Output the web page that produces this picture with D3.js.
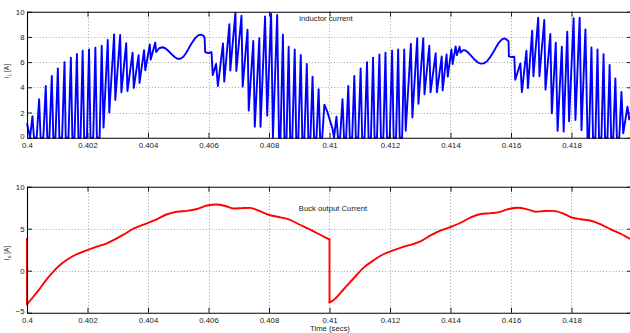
<!DOCTYPE html>
<html>
<head>
<meta charset="utf-8">
<script src="https://cdn.jsdelivr.net/npm/d3@7"></script>
<style>
  body { margin: 0; background: #fff; }
  text { font-family: "Liberation Sans", Arial, Helvetica, sans-serif; }
</style>
</head>
<body>
<svg id="chart" width="630" height="333"></svg>
<script>
// Time axis (seconds)
const timeTicks = [0.4, 0.402, 0.404, 0.406, 0.408, 0.41, 0.412, 0.414, 0.416, 0.418];
const timeLabels = ["0.4", "0.402", "0.404", "0.406", "0.408", "0.41", "0.412", "0.414", "0.416", "0.418"];

// Inductor current: switching waveform vertices
const ilTime = [
  0.40000, 0.40010, 0.40018, 0.40023, 0.40032, 0.40040, 0.40045, 0.40054, 0.40062, 0.40067,
  0.40074, 0.40082, 0.40087, 0.40094, 0.40102, 0.40107, 0.40116, 0.40124, 0.40128, 0.40137,
  0.40145, 0.40150, 0.40157, 0.40165, 0.40170, 0.40177, 0.40184, 0.40189, 0.40198, 0.40205,
  0.40210, 0.40219, 0.40226, 0.40231, 0.40240, 0.40247, 0.40253, 0.40267, 0.40272, 0.40288,
  0.40292, 0.40308, 0.40312, 0.40328, 0.40332, 0.40349, 0.40353, 0.40369, 0.40372, 0.40387,
  0.40391, 0.40406, 0.40409, 0.40424, 0.40427, 0.40437, 0.40447, 0.40457, 0.40467, 0.40477,
  0.40487, 0.40497, 0.40507, 0.40517, 0.40526, 0.40536, 0.40546, 0.40556, 0.40566, 0.40575,
  0.40584, 0.40587, 0.40589, 0.40599, 0.40610, 0.40614, 0.40625, 0.40631, 0.40648, 0.40652,
  0.40669, 0.40672, 0.40689, 0.40692, 0.40709, 0.40713, 0.40729, 0.40733, 0.40748, 0.40753,
  0.40768, 0.40772, 0.40787, 0.40794, 0.40807, 0.40813, 0.40827, 0.40833, 0.40838, 0.40846,
  0.40851, 0.40858, 0.40865, 0.40870, 0.40877, 0.40885, 0.40890, 0.40897, 0.40905, 0.40910,
  0.40917, 0.40925, 0.40930, 0.40937, 0.40944, 0.40949, 0.40957, 0.40964, 0.40969, 0.40976,
  0.40983, 0.40993, 0.41003, 0.41010, 0.41015,
  0.41023, 0.41028, 0.41035, 0.41043, 0.41048, 0.41055, 0.41062, 0.41067, 0.41075, 0.41082,
  0.41087, 0.41095, 0.41103, 0.41108, 0.41116, 0.41124, 0.41129, 0.41137, 0.41144, 0.41149,
  0.41157, 0.41165, 0.41170, 0.41178, 0.41185, 0.41190, 0.41199, 0.41207, 0.41212, 0.41220,
  0.41227, 0.41232, 0.41240, 0.41247, 0.41252, 0.41269, 0.41274, 0.41290, 0.41294, 0.41310,
  0.41314, 0.41330, 0.41334, 0.41351, 0.41355, 0.41371, 0.41374, 0.41387, 0.41391, 0.41403,
  0.41407, 0.41417, 0.41421, 0.41430, 0.41433, 0.41442, 0.41450, 0.41460, 0.41470, 0.41480,
  0.41490, 0.41500, 0.41510, 0.41520, 0.41530, 0.41540, 0.41550, 0.41560, 0.41570, 0.41578,
  0.41586, 0.41592, 0.41593, 0.41603, 0.41611, 0.41614, 0.41631, 0.41636, 0.41651, 0.41656,
  0.41670, 0.41674, 0.41690, 0.41694, 0.41710, 0.41714, 0.41730, 0.41735, 0.41748, 0.41754,
  0.41768, 0.41774, 0.41786, 0.41792, 0.41807, 0.41813, 0.41827, 0.41833, 0.41846, 0.41853,
  0.41858, 0.41866, 0.41871, 0.41879, 0.41886, 0.41891, 0.41899, 0.41906, 0.41911, 0.41919,
  0.41926, 0.41931, 0.41938, 0.41945, 0.41950, 0.41958, 0.41965, 0.41971, 0.41985, 0.41991,
  0.42000
];
const ilCurrent = [
  1.15, 0, 1.7, 0, 0, 3.05, 0, 0, 4.1, 0,
  0, 4.9, 0, 0, 5.5, 0, 0, 6.0, 0, 0,
  6.35, 0, 0, 6.65, 0, 0, 6.9, 0, 0, 7.0,
  0, 0, 7.15, 0, 0, 7.3, 0.8, 7.75, 2.0, 8.2,
  3.0, 8.15, 3.6, 7.5, 3.7, 6.75, 3.95, 6.55, 4.35, 6.95,
  5.35, 7.4, 6.2, 7.55, 6.8, 7.1, 7.18, 7.1, 6.9, 6.65,
  6.42, 6.27, 6.27, 6.42, 6.72, 7.15, 7.55, 7.9, 8.12, 8.18,
  8.08, 7.95, 6.8, 6.72, 6.78, 4.97, 5.85, 4.1, 7.48, 4.45,
  9.0, 5.33, 9.93, 5.3, 9.68, 4.05, 8.58, 2.15, 7.67, 0.87,
  7.9, 0.87, 9.63, 1.75, 9.85, 0, 9.74, 0, 0, 8.18,
  0, 0, 7.22, 0, 0, 7.0, 0, 0, 6.56, 0,
  0, 5.85, 0, 0, 4.85, 0, 0, 3.85, 0, 0,
  2.62, 2.05, 1.27, 0.7, 0,
  1.67, 0, 0, 3.05, 0, 0, 4.1, 0, 0, 4.9,
  0, 0, 5.5, 0, 0, 6.0, 0, 0, 6.35, 0,
  0, 6.6, 0, 0, 6.75, 0, 0, 6.9, 0, 0,
  7.0, 0, 0, 7.0, 0.55, 7.45, 1.6, 7.9, 2.7, 7.9,
  3.45, 7.3, 3.6, 6.7, 3.6, 6.45, 3.75, 6.6, 4.85, 7.0,
  5.85, 7.25, 6.55, 7.22, 6.75, 6.95, 6.92, 6.72, 6.45, 6.18,
  5.98, 5.88, 5.9, 6.05, 6.35, 6.72, 7.15, 7.55, 7.8, 7.88,
  7.78, 7.65, 6.45, 6.4, 6.42, 4.6, 5.9, 3.62, 6.9, 3.95,
  8.5, 4.87, 9.53, 4.88, 9.34, 3.82, 8.23, 1.94, 7.54, 0.55,
  7.22, 0.48, 8.42, 1.3, 9.48, 1.4, 9.53, 0.6, 8.6, 0,
  0, 7.17, 0, 0, 7.0, 0, 0, 6.62, 0, 0,
  5.77, 0, 0, 4.71, 0, 0, 3.63, 0.35, 2.46, 1.45,
  1.85
];
const ilTicks = [0, 2, 4, 6, 8, 10];

// Buck output current
const ioTime = [
  0.40000, 0.40000, 0.40021, 0.40043, 0.40065, 0.40087, 0.40109, 0.40131, 0.40159, 0.40186,
  0.40231, 0.40264, 0.40291, 0.40319, 0.40352, 0.40397, 0.40429, 0.40463, 0.40496, 0.40529,
  0.40562, 0.40595, 0.40628, 0.40656, 0.40683, 0.40711, 0.40738, 0.40766, 0.40801, 0.40838,
  0.40865, 0.40904, 0.40943, 0.40981, 0.41000, 0.41000, 0.41014, 0.41047, 0.41080, 0.41114,
  0.41147, 0.41180, 0.41208, 0.41246, 0.41279, 0.41301, 0.41334, 0.41368, 0.41403, 0.41434,
  0.41467, 0.41500, 0.41533, 0.41561, 0.41588, 0.41622, 0.41655, 0.41682, 0.41710, 0.41737,
  0.41771, 0.41802, 0.41831, 0.41864, 0.41897, 0.41930, 0.41964, 0.41997, 0.42000
];
const ioCurrent = [
  3.8, -4.0, -3.1, -2.1, -1.03, -0.1, 0.68, 1.27, 1.87, 2.26,
  2.86, 3.26, 3.74, 4.3, 5.0, 5.64, 6.12, 6.72, 7.02, 7.12,
  7.35, 7.76, 7.88, 7.7, 7.4, 7.45, 7.48, 7.14, 6.63, 6.35,
  6.12, 5.44, 4.76, 4.05, 3.72, -3.78, -3.49, -2.21, -0.9, 0.4,
  1.27, 1.99, 2.38, 2.86, 3.2, 3.5, 4.2, 4.8, 5.24, 5.71,
  6.36, 6.75, 6.85, 6.97, 7.3, 7.5, 7.3, 7.02, 7.1, 7.12,
  6.83, 6.31, 6.12, 5.95, 5.52, 4.93, 4.37, 3.74, 3.7
];
const ioTicks = [-5, 0, 5, 10];

const svg = d3.select("#chart");
const x = d3.scaleLinear().domain([0.4, 0.42]).range([27, 632]);

const panels = [
  {
    y: d3.scaleLinear().domain([0, 10]).range([137.7, 11.7]),
    yTicks: ilTicks, time: ilTime, values: ilCurrent, color: "#0000ff",
    title: "inductor current", titleX: 326, titleY: 20.5,
    yLabel: ["i", "L", " [A]"], yLabelX: 9, yLabelY: 71,
    smooth: false
  },
  {
    y: d3.scaleLinear().domain([-5, 10]).range([312.7, 186.7]),
    yTicks: ioTicks, time: ioTime, values: ioCurrent, color: "#ff0000",
    title: "Buck output Current", titleX: 333, titleY: 211,
    yLabel: ["I", "o", " [A]"], yLabelX: 9, yLabelY: 253,
    smooth: true
  }
];

const fmtTime = d => timeLabels[timeTicks.indexOf(d)] ?? "";

panels.forEach(p => {
  const g = svg.append("g");
  const [yBottom, yTop] = p.y.range();
  const [xLeft, xRight] = x.range();

  // dotted grid
  const grid = g.append("g")
    .attr("stroke", "#8a8a8a").attr("stroke-width", 0.8)
    .attr("stroke-dasharray", "1,2.2").attr("fill", "none");
  timeTicks.filter(t => t !== 0.4).forEach(t => {
    grid.append("line")
      .attr("x1", Math.round(x(t)) + 0.5).attr("x2", Math.round(x(t)) + 0.5)
      .attr("y1", yTop).attr("y2", yBottom);
  });
  p.yTicks.slice(1, -1).forEach(v => {
    grid.append("line")
      .attr("x1", xLeft).attr("x2", xRight)
      .attr("y1", Math.round(p.y(v)) + 0.5).attr("y2", Math.round(p.y(v)) + 0.5);
  });

  // data trace
  const pts = p.time.map((t, i) => [t, p.values[i]]);
  const line = d3.line().x(d => x(d[0])).y(d => p.y(d[1]));
  if (p.smooth) {
    // split where time repeats (vertical steps), smooth the continuous runs
    const runs = [];
    let cur = [pts[0]];
    for (let i = 1; i < pts.length; i++) {
      if (pts[i][0] === pts[i - 1][0]) {
        runs.push({ pts: cur, curve: d3.curveMonotoneX });
        runs.push({ pts: [pts[i - 1], pts[i]], curve: d3.curveLinear });
        cur = [pts[i]];
      } else {
        cur.push(pts[i]);
      }
    }
    runs.push({ pts: cur, curve: d3.curveMonotoneX });
    runs.filter(r => r.pts.length > 1).forEach(r => {
      g.append("path")
        .attr("d", line.curve(r.curve)(r.pts))
        .attr("fill", "none").attr("stroke", p.color)
        .attr("stroke-width", 1.9).attr("stroke-linejoin", "round")
        .attr("stroke-linecap", "round");
    });
  } else {
    g.append("path")
      .attr("d", line.curve(d3.curveLinear)(pts))
      .attr("fill", "none").attr("stroke", p.color)
      .attr("stroke-width", 1.9).attr("stroke-linejoin", "round");
  }

  // axes: labelled bottom/left, tick-only top/right
  const axB = g.append("g").attr("transform", `translate(0,${yBottom})`)
    .call(d3.axisBottom(x).tickValues(timeTicks).tickFormat(fmtTime)
      .tickSize(-5).tickSizeOuter(0).tickPadding(4.6));
  const axT = g.append("g").attr("transform", `translate(0,${yTop})`)
    .call(d3.axisTop(x).tickValues(timeTicks).tickFormat("")
      .tickSize(-5).tickSizeOuter(0));
  const axL = g.append("g").attr("transform", `translate(${xLeft},0)`)
    .call(d3.axisLeft(p.y).tickValues(p.yTicks).tickFormat(d3.format("d"))
      .tickSize(-5).tickSizeOuter(0).tickPadding(2.5));
  const axR = g.append("g").attr("transform", `translate(${xRight},0)`)
    .call(d3.axisRight(p.y).tickValues(p.yTicks).tickFormat("")
      .tickSize(-5).tickSizeOuter(0));
  [axB, axT, axL, axR].forEach(a => {
    a.selectAll("path.domain").attr("stroke", "#000").attr("stroke-width", 1.1);
    a.selectAll(".tick line").attr("stroke", "#000").attr("stroke-width", 0.9);
    a.selectAll(".tick text").attr("fill", "#1a1a1a").attr("font-size", 7.8)
      .attr("font-family", "'Liberation Sans', Arial, sans-serif");
  });
  // lowest y label sits just above the time labels
  axL.selectAll(".tick text").filter(d => d === p.yTicks[0]).attr("dy", "0.15em");

  // title inside the axes
  g.append("text")
    .attr("x", p.titleX).attr("y", p.titleY)
    .attr("text-anchor", "middle").attr("font-size", 7.7).attr("fill", "#1a1a1a")
    .text(p.title);

  // rotated y label with subscript
  const yl = g.append("text")
    .attr("transform", `translate(${p.yLabelX},${p.yLabelY}) rotate(-90)`)
    .attr("text-anchor", "middle").attr("font-size", 6.5).attr("fill", "#1a1a1a");
  yl.append("tspan").text(p.yLabel[0]);
  yl.append("tspan").attr("font-size", 5).attr("dy", 1.5).text(p.yLabel[1]);
  yl.append("tspan").attr("dy", -1.5).text(p.yLabel[2]);
});

// x axis label under the lower panel
svg.append("text")
  .attr("x", 330).attr("y", 331)
  .attr("text-anchor", "middle").attr("font-size", 7.7).attr("fill", "#1a1a1a")
  .text("Time (secs)");
</script>
</body>
</html>
